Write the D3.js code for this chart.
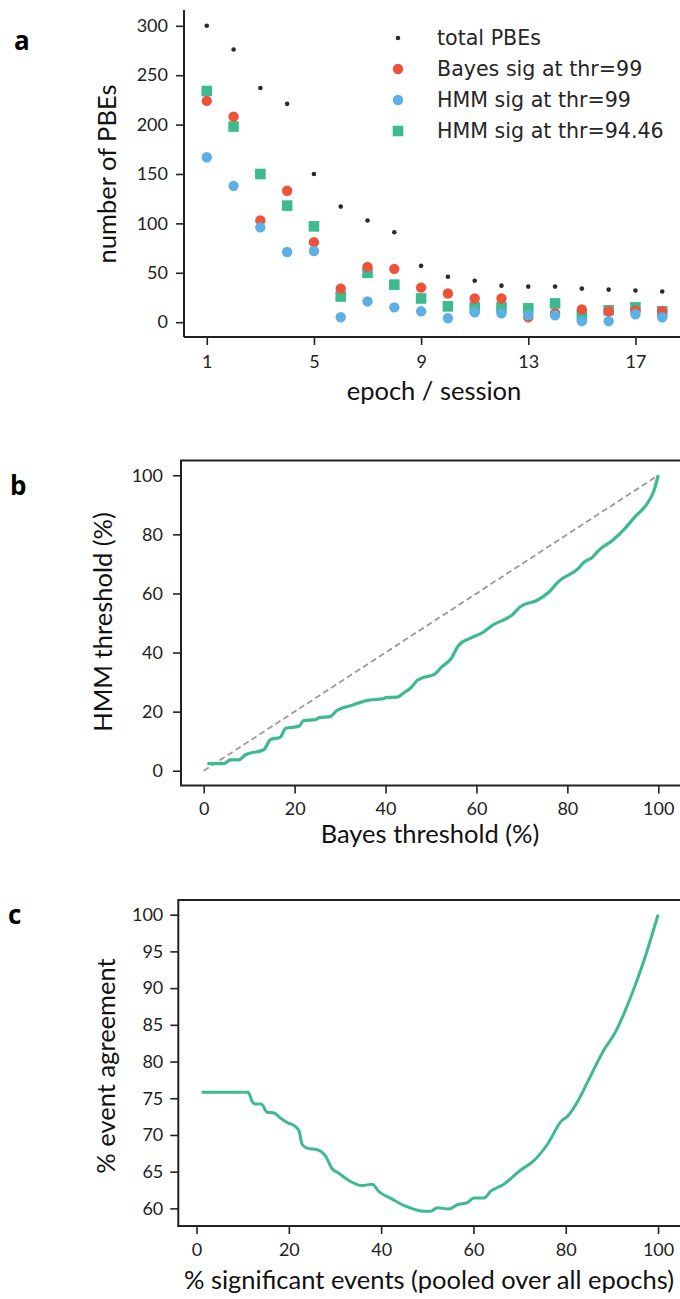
<!DOCTYPE html>
<html>
<head>
<meta charset="utf-8">
<script src="https://cdn.jsdelivr.net/npm/d3@7"></script>
<style>
  body { margin: 0; background: #fff; }
  .tick text { font-family: Lato, "Open Sans", sans-serif; fill: #222; }
  .axis-label { font-family: Lato, "Open Sans", sans-serif; fill: #111; }
  .panel-letter { font-family: "Open Sans", sans-serif; font-weight: bold; fill: #000; }
  .legend text { font-family: "DejaVu Sans", sans-serif; fill: #262626; }
</style>
</head>
<body>
<div class="figure"></div>
<script>
// panel a data
const epochs = [1, 2, 3, 4, 5, 6, 7, 8, 9, 10, 11, 12, 13, 14, 15, 16, 17, 18];
const totalPBEs = [300, 276, 237, 221, 150, 117, 103, 91, 57, 46, 42, 37, 36, 36, 34, 33, 32, 31];
const bayesSig99 = [224, 208, 103, 133, 81, 34, 56, 54, 35, 29, 24, 24, 5, 9, 13, 11, 12, 11];
const hmmSig99 = [167, 138, 96, 71, 72, 5, 21, 15, 11, 4, 10, 9, 7, 7, 1, 1, 8, 5];
const hmmSig9446 = [234, 198, 150, 118, 97, 26, 50, 38, 24, 16, 15, 15, 14, 19, 7, 12, 15, 11];
const epochTicks = [1, 5, 9, 13, 17];
const pbeTicks = [0, 50, 100, 150, 200, 250, 300];

// panel b data
const bayesThr = [0.8, 4.4, 5.9, 7.7, 9.2, 13.2, 14.7, 16.9, 18, 20.9, 22, 24.6, 25.3, 27.9, 29.3,
  32.3, 36.3, 39.3, 40.3, 42.6, 44, 45.5, 47, 48.4, 50.6, 52.5, 54.3, 56.1, 58.7, 61.3, 63.5,
  67.9, 69.7, 73.4, 75.9, 78.1, 82.5, 83.6, 85.5, 86.9, 89.9, 92.8, 94.6, 97.9, 99, 100];
const hmmThr = [2.4, 2.4, 3.7, 3.7, 5.4, 7.1, 10.5, 11.4, 14.4, 15, 17, 17.3, 17.9, 18.4, 20.4,
  22, 23.9, 24.3, 24.8, 24.9, 26.3, 28, 30.6, 31.6, 32.5, 35.3, 37.7, 42.5, 44.9, 46.7, 49.2,
  52.8, 55.6, 57.7, 60.4, 64.1, 68.6, 70.5, 72.2, 74.6, 77.9, 82.2, 85.5, 91.2, 94.6, 100];
const thrTicks = [0, 20, 40, 60, 80, 100];

// panel c data
const pctSig = [1.1, 11.2, 12.1, 12.8, 14, 15.3, 16.8, 18.2, 19.6, 21.1, 22.2, 22.9, 24, 26.1,
  27.9, 29.4, 30.8, 33, 35.9, 38.1, 39.5, 42, 45.3, 49.3, 50.7, 52.2, 54.7, 56.5, 58.7, 60.1,
  62.3, 63.7, 66.6, 70.2, 73.1, 76, 79.2, 80.3, 82.8, 85.2, 88.3, 90.4, 94.4, 96.6, 100];
const agreement = [75.8, 75.8, 74.5, 74.2, 74.2, 73.1, 73, 72.3, 71.7, 71.3, 70.6, 68.7, 68.2, 68,
  67.2, 65.4, 64.8, 63.8, 63.1, 63.3, 62.3, 61.4, 60.3, 59.6, 59.6, 60.1, 59.9, 60.5, 60.8, 61.4,
  61.4, 62.3, 63.3, 65.2, 66.5, 68.7, 72, 72.5, 74.8, 77.8, 81.6, 83.6, 89.3, 93.1, 100];
const agreeTicks = [60, 65, 70, 75, 80, 85, 90, 95, 100];

const colTotal = "#2b2b2b";
const colBayes = "#f0513a";
const colHmm = "#5cb0e6";
const colHmm2 = "#3dbb8f";

const svg = d3.select(".figure")
  .append("svg")
  .attr("width", 680)
  .attr("height", 1299);

function styleAxis(g, size) {
  g.select(".domain").remove();
  g.selectAll(".tick line").attr("stroke", "#222").attr("stroke-width", 1.6);
  g.selectAll(".tick text").style("font-size", size + "px");
}

// ---------- panel a ----------
const ax = d3.scaleLinear().domain([0.15, 18.85]).range([184, 685]);
const ay = d3.scaleLinear().domain([-15, 316]).range([337, 10]);

const aXAxis = svg.append("g")
  .attr("transform", "translate(0," + 337 + ")")
  .call(d3.axisBottom(ax).tickValues(epochTicks).tickSize(8).tickPadding(10));
styleAxis(aXAxis, 18);

const aYAxis = svg.append("g")
  .attr("transform", "translate(184,0)")
  .call(d3.axisLeft(ay).tickValues(pbeTicks).tickSize(8).tickPadding(8));
styleAxis(aYAxis, 18);

svg.append("line").attr("x1", 184).attr("x2", 184).attr("y1", 10).attr("y2", 337)
  .attr("stroke", "#222").attr("stroke-width", 2);
svg.append("line").attr("x1", 184).attr("x2", 685).attr("y1", 337).attr("y2", 337)
  .attr("stroke", "#222").attr("stroke-width", 2);

svg.selectAll(".sq")
  .data(epochs).enter()
  .append("rect")
  .attr("x", (d, i) => ax(d) - 5.3)
  .attr("y", (d, i) => ay(hmmSig9446[i]) - 5.3)
  .attr("width", 10.6)
  .attr("height", 10.6)
  .attr("fill", colHmm2);

svg.selectAll(".bayesDot")
  .data(epochs).enter()
  .append("circle")
  .attr("cx", d => ax(d))
  .attr("cy", (d, i) => ay(bayesSig99[i]))
  .attr("r", 5.2)
  .attr("fill", colBayes);

svg.selectAll(".hmmDot")
  .data(epochs).enter()
  .append("circle")
  .attr("cx", d => ax(d))
  .attr("cy", (d, i) => ay(hmmSig99[i]))
  .attr("r", 5.2)
  .attr("fill", colHmm);

svg.selectAll(".totDot")
  .data(epochs).enter()
  .append("circle")
  .attr("cx", d => ax(d))
  .attr("cy", (d, i) => ay(totalPBEs[i]))
  .attr("r", 2.3)
  .attr("fill", colTotal);

const legendItems = [
  ["total PBEs", "dot"], ["Bayes sig at thr=99", "bayes"],
  ["HMM sig at thr=99", "hmm"], ["HMM sig at thr=94.46", "sq"]
];
const legend = svg.append("g").attr("class", "legend");
legendItems.forEach((it, i) => {
  const y = 38 + i * 31;
  if (it[1] == "dot") legend.append("circle").attr("cx", 398).attr("cy", y).attr("r", 2.3).attr("fill", colTotal);
  if (it[1] == "bayes") legend.append("circle").attr("cx", 398).attr("cy", y).attr("r", 5.2).attr("fill", colBayes);
  if (it[1] == "hmm") legend.append("circle").attr("cx", 398).attr("cy", y).attr("r", 5.2).attr("fill", colHmm);
  if (it[1] == "sq") legend.append("rect").attr("x", 392.7).attr("y", y - 5.3).attr("width", 10.6).attr("height", 10.6).attr("fill", colHmm2);
  legend.append("text").text(it[0])
    .attr("x", 437).attr("y", y + 7.3)
    .style("font-size", "20.6px");
});

svg.append("text").attr("class", "axis-label")
  .text("epoch / session")
  .attr("text-anchor", "middle")
  .attr("x", 434).attr("y", 400)
  .style("font-size", "25.5px");

svg.append("text").attr("class", "axis-label")
  .text("number of PBEs")
  .attr("text-anchor", "middle")
  .attr("transform", "translate(116,174) rotate(-90)")
  .style("font-size", "25.5px");

svg.append("text").attr("class", "panel-letter").text("a")
  .attr("x", 14).attr("y", 50).style("font-size", "26px");

// ---------- panel b ----------
const bx = d3.scaleLinear().domain([-5, 105]).range([181, 681]);
const by = d3.scaleLinear().domain([-5, 105]).range([785.5, 460.5]);

const bXAxis = svg.append("g")
  .attr("transform", "translate(0,785.5)")
  .call(d3.axisBottom(bx).tickValues(thrTicks).tickSize(8).tickPadding(9));
styleAxis(bXAxis, 18);

const bYAxis = svg.append("g")
  .attr("transform", "translate(181,0)")
  .call(d3.axisLeft(by).tickValues(thrTicks).tickSize(8).tickPadding(10));
styleAxis(bYAxis, 18);

svg.append("line")
  .attr("x1", bx(0)).attr("y1", by(0)).attr("x2", bx(100)).attr("y2", by(100))
  .attr("stroke", "#9a9a9a").attr("stroke-width", 1.8).attr("stroke-dasharray", "6,3.5");

svg.append("path")
  .datum(bayesThr)
  .attr("fill", "none")
  .attr("stroke", colHmm2)
  .attr("stroke-width", 3.2)
  .attr("stroke-linejoin", "round")
  .attr("d", d3.line().x(d => bx(d)).y((d, i) => by(hmmThr[i])).curve(d3.curveMonotoneX));

svg.append("rect").attr("x", 181).attr("y", 460.5).attr("width", 500).attr("height", 325)
  .attr("fill", "none").attr("stroke", "#222").attr("stroke-width", 2);

svg.append("text").attr("class", "axis-label")
  .text("Bayes threshold (%)")
  .attr("text-anchor", "middle")
  .attr("x", 430).attr("y", 843)
  .style("font-size", "25.5px");

svg.append("text").attr("class", "axis-label")
  .text("HMM threshold (%)")
  .attr("text-anchor", "middle")
  .attr("transform", "translate(112,622) rotate(-90)")
  .style("font-size", "25.5px");

svg.append("text").attr("class", "panel-letter").text("b")
  .attr("x", 10).attr("y", 495).style("font-size", "26px");

// ---------- panel c ----------
const cx = d3.scaleLinear().domain([-3.95, 104.95]).range([178.3, 680.9]);
const cy = d3.scaleLinear().domain([57.6, 102]).range([1226, 900]);

const cXAxis = svg.append("g")
  .attr("transform", "translate(0,1226)")
  .call(d3.axisBottom(cx).tickValues(thrTicks).tickSize(8).tickPadding(9));
styleAxis(cXAxis, 18);

const cYAxis = svg.append("g")
  .attr("transform", "translate(178.3,0)")
  .call(d3.axisLeft(cy).tickValues(agreeTicks).tickSize(8).tickPadding(7));
styleAxis(cYAxis, 18);

svg.append("path")
  .datum(pctSig)
  .attr("fill", "none")
  .attr("stroke", colHmm2)
  .attr("stroke-width", 3)
  .attr("stroke-linejoin", "round")
  .attr("d", d3.line().x(d => cx(d)).y((d, i) => cy(agreement[i])).curve(d3.curveMonotoneX));

svg.append("rect").attr("x", 178.3).attr("y", 900).attr("width", 503).attr("height", 326)
  .attr("fill", "none").attr("stroke", "#222").attr("stroke-width", 2);

svg.append("text").attr("class", "axis-label")
  .text("% significant events (pooled over all epochs)")
  .attr("text-anchor", "middle")
  .attr("x", 429).attr("y", 1289)
  .style("font-size", "25.5px");

svg.append("text").attr("class", "axis-label")
  .text("% event agreement")
  .attr("text-anchor", "middle")
  .attr("transform", "translate(115,1066) rotate(-90)")
  .style("font-size", "25.5px");

svg.append("text").attr("class", "panel-letter").text("c")
  .attr("x", 8).attr("y", 924).style("font-size", "26px");
</script>
</body>
</html>
